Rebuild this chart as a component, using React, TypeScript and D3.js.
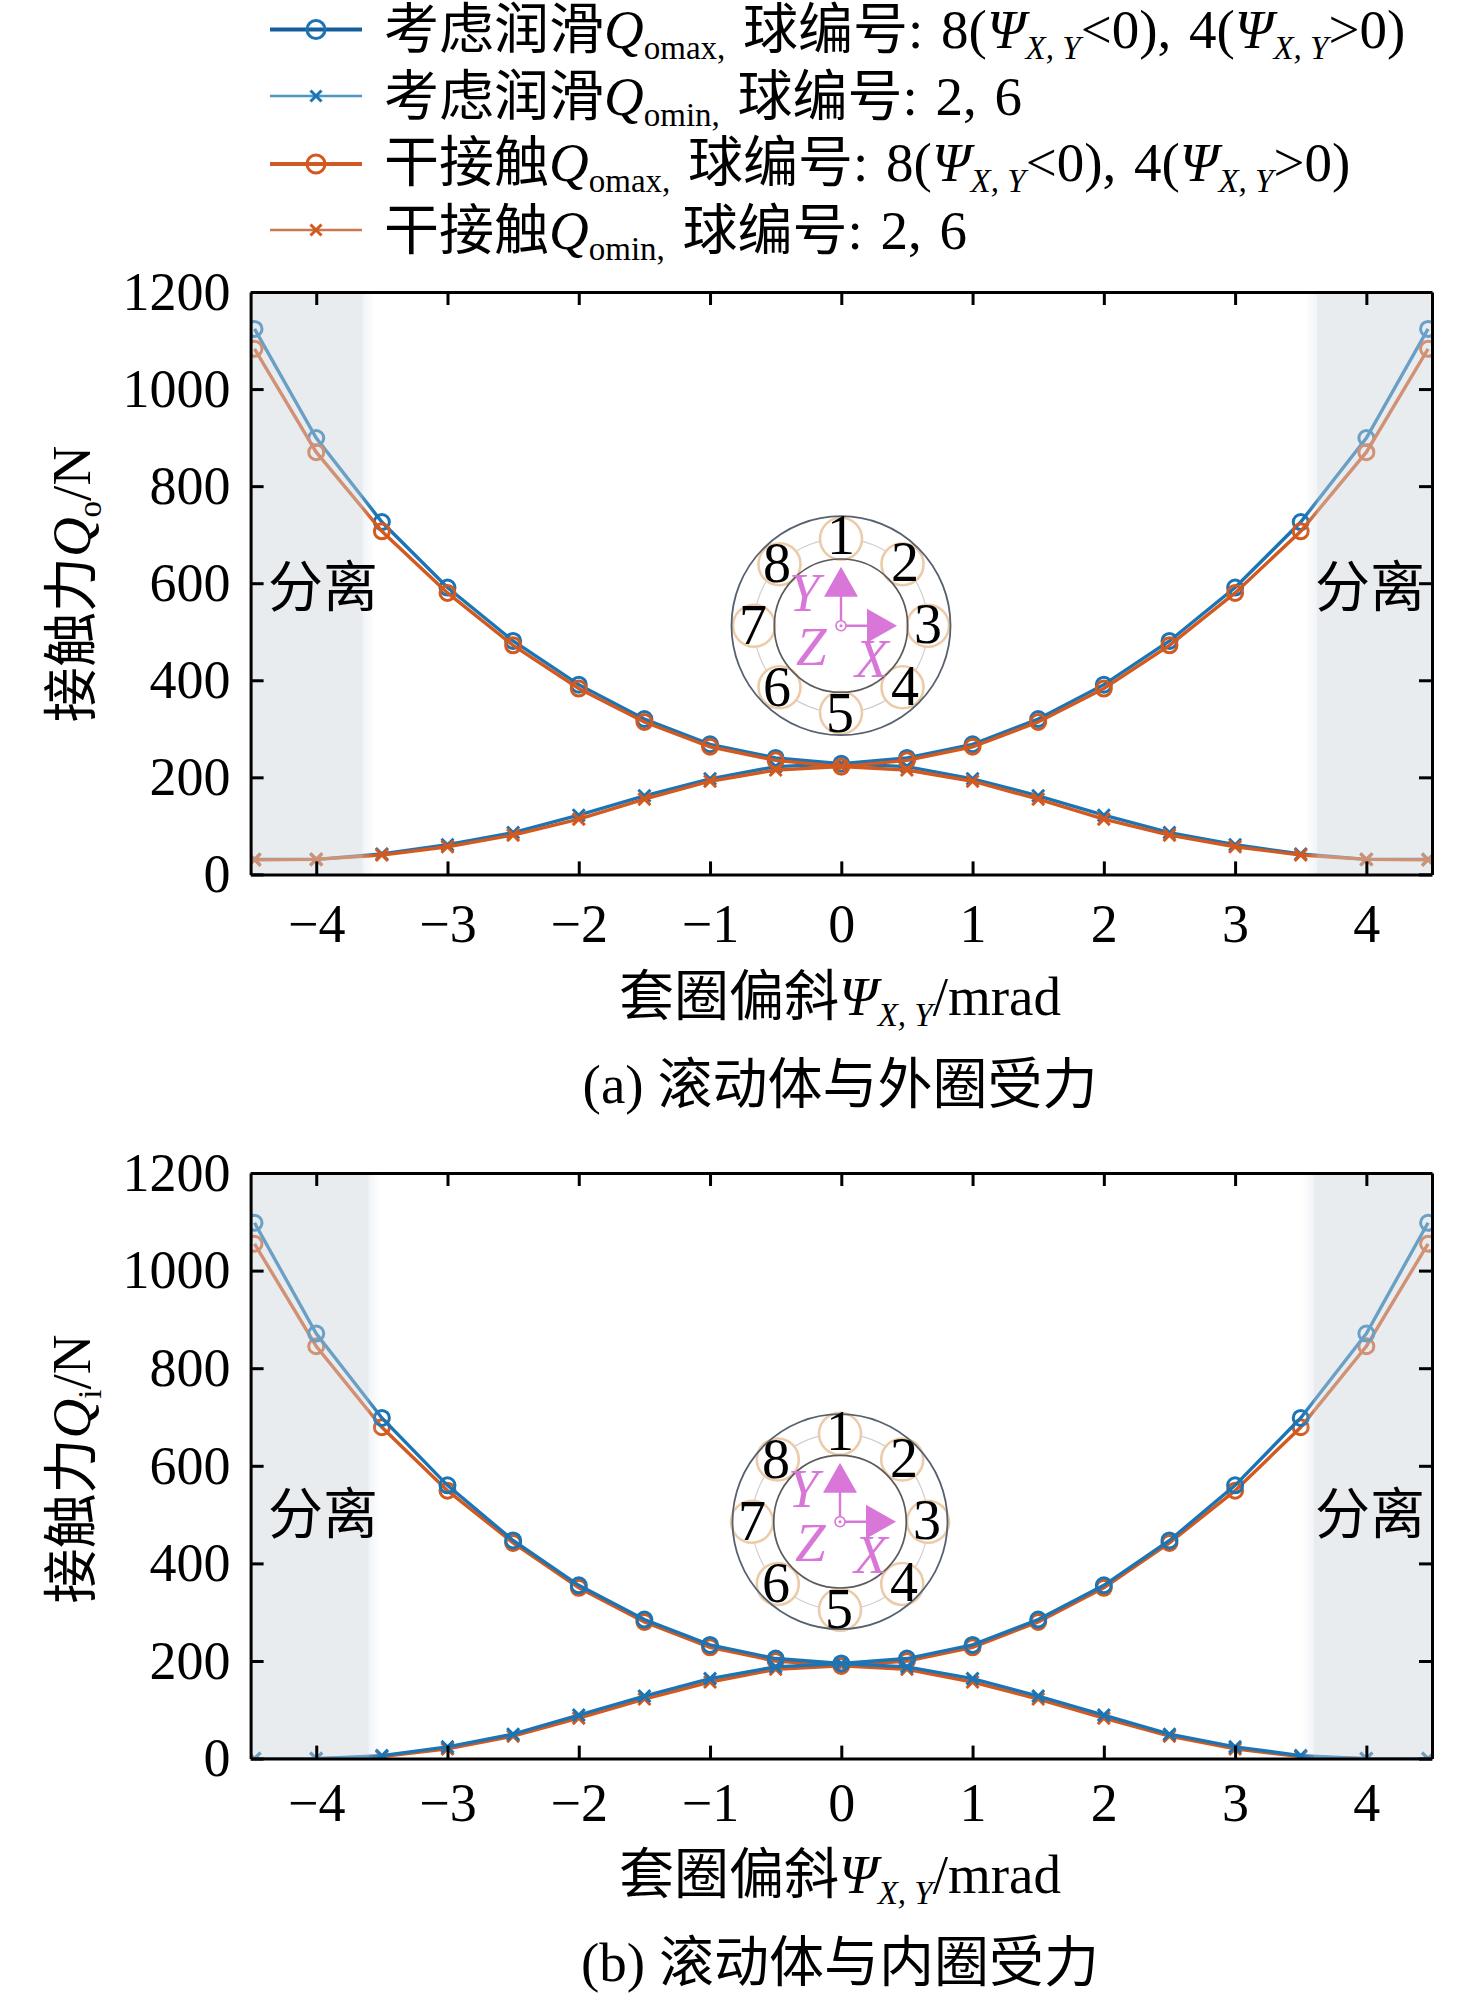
import * as d3 from 'd3';
import React, { useRef, useEffect } from 'react';

const psiValues = [-4.47, -4, -3.5, -3, -2.5, -2, -1.5, -1, -0.5, 0, 0.5, 1, 1.5, 2, 2.5, 3, 3.5, 4, 4.47];
const xTicks = [-4, -3, -2, -1, 0, 1, 2, 3, 4];
const yTicks = [0, 200, 400, 600, 800, 1000, 1200];

// (a) outer ring
const outerMaxLub = [1124, 899, 726, 591, 481, 391, 320, 268, 240, 228, 240, 268, 320, 391, 481, 591, 726, 899, 1124];
const outerMinLub = [31, 31, 42, 61, 86, 122, 162, 197, 222, 228, 222, 197, 162, 122, 86, 61, 42, 31, 31];
const outerMaxDry = [1083, 870, 707, 580, 472, 383, 314, 263, 235, 222, 235, 263, 314, 383, 472, 580, 707, 870, 1083];
const outerMinDry = [30, 31, 40, 57, 81, 114, 155, 192, 215, 222, 215, 192, 155, 114, 81, 57, 40, 31, 30];

// (b) inner ring
const innerMaxLub = [1098, 871, 698, 560, 447, 355, 285, 233, 205, 195, 205, 233, 285, 355, 447, 560, 698, 871, 1098];
const innerMinLub = [0, 0, 6, 24, 50, 89, 128, 164, 188, 195, 188, 164, 128, 89, 50, 24, 6, 0, 0];
const innerMaxDry = [1055, 845, 679, 549, 442, 350, 280, 228, 200, 190, 200, 228, 280, 350, 442, 549, 679, 845, 1055];
const innerMinDry = [0, 0, 4, 20, 46, 83, 122, 157, 183, 190, 183, 157, 122, 83, 46, 20, 4, 0, 0];

const BLUE = '#1b75b5';
const ORANGE = '#d3591f';
const PURPLE = '#d977d9';
const FONT = '"Liberation Serif", "Noto Sans CJK SC"';
const FS = 55;
const SUB = 33;

type Part = [string, string?];

// text made of normal runs, italic runs ("i") and subscripts ("s", "si")
function richText(g: any, x: number, y: number, parts: Part[], anchor = 'start', size = FS) {
  const text = g.append('text')
    .attr('x', x).attr('y', y)
    .attr('font-family', FONT).attr('font-size', size)
    .attr('text-anchor', anchor).attr('fill', '#000')
    .style('white-space', 'pre');
  let down = 0;
  parts.forEach(([t, kind]) => {
    const isSub = kind === 's' || kind === 'si';
    const shift = isSub ? 11 : 0;
    text.append('tspan')
      .attr('dy', shift - down)
      .attr('font-size', isSub ? SUB : size)
      .attr('font-style', kind === 'i' || kind === 'si' ? 'italic' : 'normal')
      .attr('word-spacing', isSub ? 0 : null)
      .text(t);
    down = shift;
  });
  return text;
}

function drawMarker(g: any, kind: string, cx: number, cy: number, color: string, r: number) {
  if (kind === 'o') {
    g.append('circle').attr('cx', cx).attr('cy', cy).attr('r', r)
      .attr('fill', 'none').attr('stroke', color).attr('stroke-width', 3);
  } else {
    const d = d3.path();
    d.moveTo(cx - r, cy - r); d.lineTo(cx + r, cy + r);
    d.moveTo(cx + r, cy - r); d.lineTo(cx - r, cy + r);
    g.append('path').attr('d', d.toString()).attr('stroke', color).attr('stroke-width', 3).attr('fill', 'none');
  }
}

function drawInset(g: any, cx: number, cy: number, rOuter: number, rInner: number, rPitch: number) {
  const inset = g.append('g');
  inset.append('circle').attr('cx', cx).attr('cy', cy).attr('r', rPitch)
    .attr('fill', 'none').attr('stroke', '#cfcfcf').attr('stroke-width', 1.2);
  d3.range(8).forEach((i) => {
    const a = (i * Math.PI) / 4;
    inset.append('circle')
      .attr('cx', cx + rPitch * Math.sin(a)).attr('cy', cy - rPitch * Math.cos(a)).attr('r', 21)
      .attr('fill', '#fff').attr('stroke', '#eccba9').attr('stroke-width', 2.6);
  });
  inset.append('circle').attr('cx', cx).attr('cy', cy).attr('r', rOuter)
    .attr('fill', 'none').attr('stroke', '#56606f').attr('stroke-width', 1.8);
  inset.append('circle').attr('cx', cx).attr('cy', cy).attr('r', rInner)
    .attr('fill', 'none').attr('stroke', '#5a5a5a').attr('stroke-width', 1.7);

  // ball numbers, offsets from the bearing centre
  const numOffsets = [[0, -72], [64, -45], [87, 17], [64, 79], [-1, 106], [-64, 80], [-88, 18], [-64, -44]];
  numOffsets.forEach(([dx, dy], i) => {
    inset.append('text').attr('x', cx + dx).attr('y', cy + dy)
      .attr('font-family', FONT).attr('font-size', 56).attr('text-anchor', 'middle')
      .text(String(i + 1));
  });

  inset.append('path')
    .attr('d', `M${cx},${cy}V${cy - 30}M${cx},${cy}H${cx + 26}`)
    .attr('stroke', PURPLE).attr('stroke-width', 2.4);
  inset.append('path')
    .attr('d', `M${cx},${cy - 59}L${cx - 17},${cy - 29}H${cx + 17}Z M${cx + 56},${cy}L${cx + 26},${cy - 17}V${cy + 17}Z`)
    .attr('fill', PURPLE);
  inset.append('circle').attr('cx', cx).attr('cy', cy).attr('r', 5)
    .attr('fill', '#fff').attr('stroke', PURPLE).attr('stroke-width', 1.6);
  inset.append('circle').attr('cx', cx).attr('cy', cy).attr('r', 1.5).attr('fill', PURPLE);
  [['Y', -52, -15], ['Z', -45, 39], ['X', 14, 51]].forEach(([t, dx, dy]: any) => {
    inset.append('text').attr('x', cx + dx).attr('y', cy + dy)
      .attr('font-family', FONT).attr('font-size', 55).attr('font-style', 'italic')
      .attr('fill', PURPLE).text(t);
  });
}

function drawPanel(svg: any, opt: any) {
  const { id, top, bottom, series, sepLeft, sepRight, yLabel, yLabelY, caption, captionY, xLabelY, sepY, inset, xPad } = opt;
  const left = 250.6;
  const right = 1432;
  const x = d3.scaleLinear().domain([-4.5, 4.5]).range([left, right]);
  const y = d3.scaleLinear().domain([0, 1200]).range([bottom, top]);
  const g = svg.append('g');

  const defs = g.append('defs');
  defs.append('clipPath').attr('id', 'clip' + id).append('rect')
    .attr('x', left).attr('y', top).attr('width', right - left).attr('height', bottom - top);
  const fadeL = defs.append('linearGradient').attr('id', 'fadeL' + id);
  fadeL.append('stop').attr('offset', 0).attr('stop-color', '#d0d8e4').attr('stop-opacity', 0.3);
  fadeL.append('stop').attr('offset', 1).attr('stop-color', '#d0d8e4').attr('stop-opacity', 0);
  const fadeR = defs.append('linearGradient').attr('id', 'fadeR' + id);
  fadeR.append('stop').attr('offset', 0).attr('stop-color', '#d0d8e4').attr('stop-opacity', 0);
  fadeR.append('stop').attr('offset', 1).attr('stop-color', '#d0d8e4').attr('stop-opacity', 0.3);

  const plot = g.append('g').attr('clip-path', `url(#clip${id})`);
  const line = d3.line<number>().x((_, i) => x(psiValues[i])).y((d) => y(d));
  series.forEach((s: any) => {
    plot.append('path').attr('d', line(s.values)).attr('fill', 'none')
      .attr('stroke', s.color).attr('stroke-width', 3.4);
    s.values.forEach((v: number, i: number) => {
      drawMarker(plot, s.marker, x(psiValues[i]), y(v), s.color, s.marker === 'o' ? 7.5 : 6);
    });
  });

  // separation bands lie over the curves and wash them out
  const band = (x0: number, x1: number) =>
    plot.append('rect').attr('x', x0).attr('y', top).attr('width', x1 - x0).attr('height', bottom - top);
  band(x(-4.5), x(sepLeft)).attr('fill', '#cdd4db').attr('opacity', 0.45);
  band(x(sepRight), x(4.5)).attr('fill', '#cdd4db').attr('opacity', 0.45);
  band(x(sepLeft), x(sepLeft) + 12).attr('fill', `url(#fadeL${id})`);
  band(x(sepRight) - 12, x(sepRight)).attr('fill', `url(#fadeR${id})`);

  const styleAxis = (a: any) => {
    a.selectAll('path').attr('stroke', '#000').attr('stroke-width', 3);
    a.selectAll('line').attr('stroke', '#000').attr('stroke-width', 3);
    a.selectAll('text').attr('font-family', FONT).attr('font-size', 54).attr('fill', '#000');
  };
  g.append('g').attr('transform', `translate(0,${bottom})`)
    .call(d3.axisBottom(x).tickValues(xTicks).tickSizeInner(-13).tickSizeOuter(0).tickPadding(xPad))
    .call(styleAxis);
  g.append('g').attr('transform', `translate(0,${top})`)
    .call(d3.axisTop(x).tickValues(xTicks).tickSizeInner(-13).tickSizeOuter(0).tickFormat(() => ''))
    .call(styleAxis);
  g.append('g').attr('transform', `translate(${left},0)`)
    .call(d3.axisLeft(y).tickValues(yTicks).tickSizeInner(-13).tickSizeOuter(0).tickPadding(20).tickFormat(d3.format('d')))
    .call(styleAxis);
  g.append('g').attr('transform', `translate(${right},0)`)
    .call(d3.axisRight(y).tickValues(yTicks).tickSizeInner(-13).tickSizeOuter(0).tickFormat(() => ''))
    .call(styleAxis);

  richText(g, 268, sepY, [['分离']]);
  richText(g, 1315, sepY, [['分离']]);

  drawInset(g, inset[0], inset[1], inset[2], inset[3], inset[4]);

  richText(g, 840, xLabelY, [['套圈偏斜'], ['Ψ', 'i'], ['X, Y', 'si'], ['/mrad']], 'middle');
  richText(g, 840, captionY, [[caption]], 'middle');
  richText(g, 0, 0, [['接触力'], ['Q', 'i'], [yLabel, 's'], ['/N']], 'middle')
    .attr('transform', `translate(90,${yLabelY}) rotate(-90)`);
}

function App(): any {
  const ref = useRef(null);

  useEffect(() => {
    const svg = d3.select(ref.current);
    svg.selectAll('*').remove();

    // legend
    const legendRows: any[] = [
      { color: BLUE, dark: '#155f9f', marker: 'o', w: 4, y: 29.5, base: 48,
        parts: [['考虑润滑'], ['Q', 'i'], ['omax,', 's'], [' 球编号: 8('], ['Ψ', 'i'], ['X, Y', 'si'], ['<0), 4('], ['Ψ', 'i'], ['X, Y', 'si'], ['>0)']] },
      { color: BLUE, dark: '#4c97c6', marker: 'x', w: 2.4, y: 96, base: 115,
        parts: [['考虑润滑'], ['Q', 'i'], ['omin,', 's'], [' 球编号: 2, 6']] },
      { color: ORANGE, dark: '#d05a24', marker: 'o', w: 4, y: 164, base: 181,
        parts: [['干接触'], ['Q', 'i'], ['omax,', 's'], [' 球编号: 8('], ['Ψ', 'i'], ['X, Y', 'si'], ['<0), 4('], ['Ψ', 'i'], ['X, Y', 'si'], ['>0)']] },
      { color: ORANGE, dark: '#c9784f', marker: 'x', w: 2.6, y: 230, base: 249,
        parts: [['干接触'], ['Q', 'i'], ['omin,', 's'], [' 球编号: 2, 6']] },
    ];
    const legend = svg.append('g');
    legendRows.forEach((row) => {
      legend.append('line').attr('x1', 270).attr('x2', 362).attr('y1', row.y).attr('y2', row.y)
        .attr('stroke', row.dark).attr('stroke-width', row.w);
      drawMarker(legend, row.marker, 316, row.y, row.color, row.marker === 'o' ? 9 : 5.5);
      richText(legend, 384, row.base, row.parts).attr('word-spacing', 4);
    });

    drawPanel(svg, {
      id: 'a', top: 292, bottom: 874.4, xPad: 29,
      series: [
        { values: outerMaxLub, color: BLUE, marker: 'o' },
        { values: outerMinLub, color: BLUE, marker: 'x' },
        { values: outerMaxDry, color: ORANGE, marker: 'o' },
        { values: outerMinDry, color: ORANGE, marker: 'x' },
      ],
      sepLeft: -3.647, sepRight: 3.625,
      yLabel: 'o', yLabelY: 584, caption: '(a) 滚动体与外圈受力', captionY: 1103, xLabelY: 1015,
      sepY: 606, inset: [841, 625.7, 109.5, 66.7, 87],
    });
    drawPanel(svg, {
      id: 'b', top: 1173, bottom: 1758.6, xPad: 24,
      series: [
        { values: innerMaxDry, color: ORANGE, marker: 'o' },
        { values: innerMinDry, color: ORANGE, marker: 'x' },
        { values: innerMaxLub, color: BLUE, marker: 'o' },
        { values: innerMinLub, color: BLUE, marker: 'x' },
      ],
      sepLeft: -3.6, sepRight: 3.6,
      yLabel: 'i', yLabelY: 1469, caption: '(b) 滚动体与内圈受力', captionY: 1981, xLabelY: 1893,
      sepY: 1533, inset: [840, 1521.7, 107.5, 66.3, 88],
    });
  }, []);

  return (
    <svg
      ref={ref}
      width={1476}
      height={2001}
      style={{ position: 'absolute', left: 0, top: 0, background: '#fff', display: 'block' }}
    />
  );
}

export default App;
